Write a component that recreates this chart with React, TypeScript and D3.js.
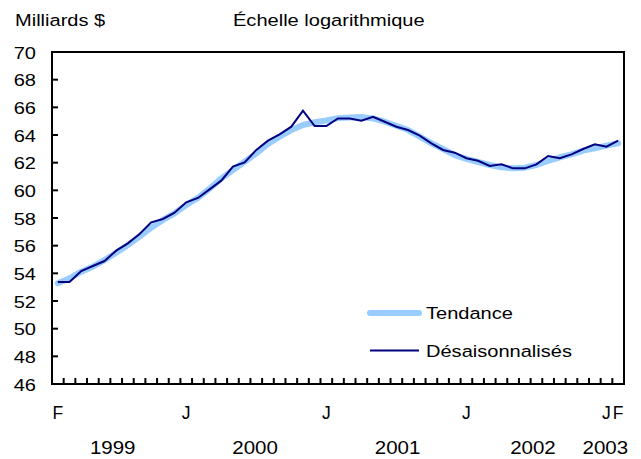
import React from "react";
import * as d3 from "d3";

const months: string[] = [
  "F","M","A","M","J","J","A","S","O","N","D",
  "J","F","M","A","M","J","J","A","S","O","N","D",
  "J","F","M","A","M","J","J","A","S","O","N","D",
  "J","F","M","A","M","J","J","A","S","O","N","D",
  "J","F",
];

const desaisonnalises: number[] = [
  53.37, 53.37, 54.17, 54.53, 54.89, 55.64, 56.17, 56.84, 57.69, 57.93, 58.38,
  59.13, 59.45, 60.07, 60.70, 61.71, 62.02, 62.92, 63.59, 64.05, 64.60, 65.76,
  64.65, 64.65, 65.20, 65.20, 65.03, 65.32, 64.96, 64.60, 64.36, 63.95, 63.40,
  62.92, 62.72, 62.32, 62.14, 61.76, 61.88, 61.59, 61.59, 61.88, 62.48, 62.32,
  62.60, 62.99, 63.33, 63.15, 63.59,
];

const tendance: number[] = [
  53.28, 53.64, 54.12, 54.48, 54.96, 55.49, 56.05, 56.65, 57.30, 57.86, 58.34,
  58.94, 59.45, 60.12, 60.85, 61.47, 62.07, 62.67, 63.35, 63.88, 64.36, 64.72,
  64.92, 65.05, 65.22, 65.27, 65.30, 65.20, 64.96, 64.67, 64.36, 63.88, 63.40,
  62.99, 62.55, 62.27, 62.05, 61.83, 61.66, 61.59, 61.64, 61.83, 62.12, 62.39,
  62.60, 62.87, 63.04, 63.23, 63.40,
];

const yTicks: number[] = [46, 48, 50, 52, 54, 56, 58, 60, 62, 64, 66, 68, 70];

const monthLabels: { idx: number; label: string }[] = [
  { idx: 0, label: "F" },
  { idx: 11, label: "J" },
  { idx: 23, label: "J" },
  { idx: 35, label: "J" },
  { idx: 47, label: "J" },
  { idx: 48, label: "F" },
];

const yearLabels: { pos: number; label: string }[] = [
  { pos: 4.7, label: "1999" },
  { pos: 16.9, label: "2000" },
  { pos: 29.1, label: "2001" },
  { pos: 40.7, label: "2002" },
  { pos: 46.9, label: "2003" },
];

const W = 641;
const H = 459;
const L = 52, R = 624, T = 52, B = 384;
const FONT = "'Liberation Sans', Arial, sans-serif";

function Txt(props: { x: number; y: number; anchor?: string; fs?: number; sx?: number; children: React.ReactNode }) {
  const { x, y, anchor = "start", fs = 17, sx = 1.18, children } = props;
  return (
    <text
      transform={`translate(${x},${y}) scale(${sx},1)`}
      textAnchor={anchor}
      fontFamily={FONT}
      fontSize={fs}
      fill="#000"
    >
      {children}
    </text>
  );
}

export default function App() {
  const x = d3.scaleLinear().domain([-0.5, months.length - 0.5]).range([L, R]);
  const y = d3.scaleLinear().domain([46, 70]).range([B, T]);

  const line = d3
    .line<number>()
    .x((_, i) => x(i))
    .y((d) => y(d));

  const boundaries = d3.range(0.5, months.length - 1, 1);

  return (
    <svg width={W} height={H} style={{ position: "absolute", left: 0, top: 0 }}>
      <rect width={W} height={H} fill="#fff" />
      <Txt x={15} y={26}>Milliards $</Txt>
      <Txt x={233} y={26}>Échelle logarithmique</Txt>

      {yTicks.map((t) => (
        <g key={t}>
          <line x1={L} x2={L + 6} y1={y(t)} y2={y(t)} stroke="#000" strokeWidth={2} />
          <Txt x={36} y={y(t) + 6.5} anchor="end">{t}</Txt>
        </g>
      ))}

      {boundaries.map((b) => (
        <line key={b} x1={x(b)} x2={x(b)} y1={B} y2={B - 6} stroke="#000" strokeWidth={2} />
      ))}

      <path d={line(tendance) || ""} fill="none" stroke="#99CCFF" strokeWidth={6} strokeLinejoin="round" strokeLinecap="round" />
      <path d={line(desaisonnalises) || ""} fill="none" stroke="#000080" strokeWidth={2} strokeLinejoin="miter" />

      <rect x={L} y={T} width={R - L} height={B - T} fill="none" stroke="#000" strokeWidth={2} />

      {monthLabels.map((m) => (
        <Txt key={m.idx} x={x(m.idx)} y={419} anchor="middle" fs={17.5} sx={1}>{m.label}</Txt>
      ))}
      {yearLabels.map((m) => (
        <Txt key={m.label} x={x(m.pos)} y={454} anchor="middle" fs={19} sx={1.08}>{m.label}</Txt>
      ))}

      <line x1={370} x2={419} y1={313} y2={313} stroke="#99CCFF" strokeWidth={6} strokeLinecap="round" />
      <Txt x={426} y={319}>Tendance</Txt>
      <line x1={370} x2={419} y1={350.5} y2={350.5} stroke="#000080" strokeWidth={2} />
      <Txt x={426} y={356.5}>Désaisonnalisés</Txt>
    </svg>
  );
}
